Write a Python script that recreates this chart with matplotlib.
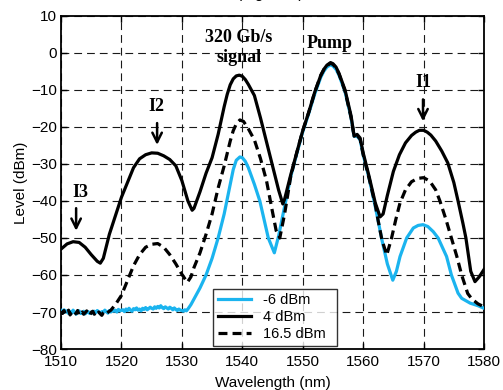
import matplotlib
matplotlib.use("Agg")
import matplotlib.pyplot as plt
import numpy as np

plt.rcParams["font.family"] = ["Liberation Sans", "DejaVu Sans"]

# --- data ------------------------------------------------------------------
# noise floors are sampled every 0.25 nm starting at 1510 nm
noise_16 = [-69.8, -70.4, -69.6, -70.6, -70.1, -69.5, -70.8, -70.2, -69.9, -70.7,
            -70.3, -69.6, -70.9, -70.4, -70.0, -70.6, -70.2, -69.7, -70.5, -70.9,
            -70.1, -69.8, -70.6, -70.3, -70.8, -70.0, -70.5, -70.9, -70.2, -69.9,
            -70.4, -70.1, -69.8, -69.5]
noise_m6 = [-69.6, -70.2, -69.4, -70.0, -69.7, -70.4, -69.9, -70.3, -69.5, -70.1,
            -70.6, -70.0, -69.7, -70.4, -70.2, -69.8, -70.5, -70.1, -69.9, -70.4,
            -70.0, -70.3, -69.8, -70.2, -69.6, -70.0, -70.4, -69.9, -70.1, -69.5,
            -69.9, -70.3, -69.6, -70.0, -69.4, -69.8, -69.5, -70.0, -69.3, -69.7,
            -69.5, -69.4, -69.9, -69.2, -69.6, -69.0, -69.5, -69.8, -69.1, -69.4,
            -68.9, -69.5, -69.2, -69.7, -69.0, -69.3, -68.8, -69.4, -69.1, -68.7,
            -69.0, -69.2, -68.6, -69.0, -68.5, -68.9, -68.3, -68.8, -69.1, -68.6,
            -68.9, -69.2, -68.7, -69.0, -69.4, -68.9, -69.3, -69.6, -69.2, -69.5,
            -69.6, -69.8, -69.4, -69.7, -69.2]

# 4 dBm (solid black)
wl_4 = [1510, 1511, 1512, 1513, 1514, 1515, 1516, 1516.5, 1517, 1518,
        1519, 1520, 1521, 1522, 1523, 1524, 1525, 1526, 1527, 1528,
        1529, 1530, 1531, 1531.7, 1532, 1533, 1534, 1535, 1536, 1537,
        1537.5, 1538, 1538.5, 1539, 1539.5, 1540, 1540.5, 1541, 1542, 1543,
        1544, 1545, 1546, 1546.7, 1547, 1548, 1549, 1550, 1551, 1552,
        1553, 1553.5, 1554, 1554.6, 1555, 1555.5, 1556, 1557, 1558, 1558.5,
        1559, 1559.5, 1560, 1561, 1562, 1562.8, 1563.3, 1564, 1565, 1566,
        1567, 1568, 1568.7, 1569.3, 1570, 1570.6, 1571.2, 1572, 1573, 1574,
        1575, 1575.7, 1576.5, 1577, 1577.8, 1578.5, 1579.2, 1580]
lvl_4 = [-53, -51.6, -51, -51.2, -52.5, -54.5, -56.3, -56.8, -55.5, -49,
         -44, -39, -35, -31, -28.6, -27.5, -27, -27.1, -27.8, -28.8,
         -30.5, -34.5, -40, -42.5, -42, -37.5, -32.5, -28.3, -22, -14.5,
         -11.2, -8.6, -7.0, -6.2, -6, -6.3, -7.2, -8.5, -11.5, -17.5,
         -24, -30.5, -37, -40.8, -39.5, -33, -27, -21, -16, -10.5,
         -6, -4.4, -3.3, -2.6, -2.9, -3.8, -5.5, -10, -17, -22.5,
         -22, -23, -27, -33.5, -40.5, -44.3, -43.5, -38.5, -32, -27.5,
         -24.3, -22.3, -21.4, -20.9, -20.9, -21.4, -22.2, -23.8, -26.5, -29.7,
         -35, -40, -46, -50, -59, -61.8, -60.5, -58.5]

# 16.5 dBm (dashed black), after its noise floor
wl_16 = [1518.5, 1519, 1520, 1521, 1522, 1523, 1524, 1525, 1526, 1527,
         1528, 1529, 1530, 1530.9, 1531.5, 1532, 1533, 1534, 1535, 1536,
         1537, 1538, 1538.5, 1539, 1539.6, 1540.2, 1541, 1542, 1543, 1544,
         1545, 1545.6, 1546.2, 1547, 1547.5, 1548, 1549, 1550, 1551, 1552,
         1553, 1553.5, 1554, 1554.6, 1555, 1555.5, 1556, 1557, 1558, 1558.5,
         1559, 1559.5, 1560, 1561, 1562, 1562.5, 1563.1, 1563.9, 1564.7, 1565.4,
         1566.1, 1567, 1568, 1569, 1570, 1571, 1572, 1572.7, 1573.7, 1574.6,
         1575.5, 1576.3, 1577.3, 1578, 1579, 1580]
lvl_16 = [-69, -68, -65.5, -61.5, -57.5, -54.5, -52.5, -51.7, -51.5, -52.5,
          -54.5, -57, -59.8, -62, -60.5, -58, -54, -49, -43.5, -36.5,
          -30.5, -23.8, -21, -19.2, -18.1, -18.5, -20.5, -23.5, -28.5, -34.5,
          -43, -48, -50, -43.5, -38.5, -33.5, -27, -21, -16, -10.5,
          -6, -4.5, -3.4, -2.8, -3.1, -4, -5.7, -10.3, -17.5, -22.5,
          -22.3, -23.3, -27.5, -34, -41, -45.5, -50.5, -54.6, -50, -45,
          -40.5, -37, -34.8, -33.9, -33.7, -34.6, -37, -40, -45, -50,
          -55, -60, -65, -66.5, -67.8, -68.6]

# -6 dBm (cyan), after its noise floor
wl_m6 = [1531.5, 1532, 1533, 1534, 1535, 1536, 1537, 1538, 1538.5, 1539,
         1539.6, 1540, 1540.5, 1541, 1542, 1542.9, 1543.6, 1544.3, 1545.3, 1546,
         1546.5, 1547, 1548, 1549, 1550, 1551, 1552, 1553, 1553.5, 1554,
         1554.6, 1555, 1555.5, 1556, 1557, 1558, 1558.5, 1559, 1559.5, 1560,
         1561, 1562, 1562.5, 1563.1, 1564, 1564.9, 1565.5, 1566.1, 1567.2, 1568.3,
         1569.1, 1569.9, 1570.7, 1571.6, 1572.4, 1573.8, 1574.6, 1575.7, 1576.3, 1577.7,
         1579, 1580]
lvl_m6 = [-68, -66.5, -63.5, -60, -55.5, -50, -43.5, -35.5, -31.5, -29,
          -28.1, -28.3, -29.3, -31, -35.5, -40, -45, -50, -54, -49.5,
          -45.5, -41.5, -33.5, -27.3, -21.3, -16.3, -11, -6.5, -4.9, -3.8,
          -3.2, -3.5, -4.4, -6, -10.5, -17.5, -22.5, -22.5, -23.5, -27.5,
          -34, -41.5, -45.5, -50.5, -57, -61.4, -59, -55, -50, -47.3,
          -46.6, -46.4, -46.9, -48.3, -50, -55, -60, -64.9, -66.3, -67.6,
          -68.3, -69]

labels = ["-6 dBm", "4 dBm", "16.5 dBm"]
x_ticks = [1510, 1520, 1530, 1540, 1550, 1560, 1570, 1580]
y_ticks = [-80, -70, -60, -50, -40, -30, -20, -10, 0, 10]

# peak annotations: (label, text x, text level, arrow x, arrow top, arrow tip)
peaks = [("I3", 1513.2, -37.8, 1512.5, -41.2, -48.8),
         ("I2", 1525.7, -14.6, 1525.9, -18.2, -25.6),
         ("I1", 1570.0, -8.1, 1569.9, -11.8, -19.2)]

CYAN = "#1bb4ef"

# --- figure --------------------------------------------------------------------
fig = plt.figure(figsize=(5.03, 3.90), dpi=100)
ax = fig.add_axes([0.1213, 0.1051, 0.8410, 0.8540])

x16 = np.concatenate([1510 + 0.25 * np.arange(len(noise_16)), wl_16])
y16 = np.concatenate([noise_16, lvl_16])
xm6 = np.concatenate([1510 + 0.25 * np.arange(len(noise_m6)), wl_m6])
ym6 = np.concatenate([noise_m6, lvl_m6])

h_m6, = ax.plot(xm6, ym6, color=CYAN, lw=2.3, zorder=3)
h_16, = ax.plot(x16, y16, color="black", lw=2.3, ls=(0, (2.8, 1.6)), zorder=4)
h_4, = ax.plot(wl_4, lvl_4, color="black", lw=2.3, zorder=5)

ax.set_xlim(1510, 1580)
ax.set_ylim(-80, 10)
ax.set_xticks(x_ticks)
ax.set_yticks(y_ticks)
ax.tick_params(direction="in", top=True, right=True, length=4, width=1,
               labelsize=11, pad=3)
ax.tick_params(axis="x", pad=4)
ax.grid(True, color="0.1", lw=0.8, ls=(0, (7, 4.5)))
for s in ax.spines.values():
    s.set_linewidth(1.3)

ax.set_xlabel("Wavelength (nm)", fontsize=11, labelpad=5)
ax.set_ylabel("Level (dBm)", fontsize=11, labelpad=2)

# annotations
serif = dict(family=["Liberation Serif", "DejaVu Serif"], weight="bold", fontsize=13)
ax.text(1539.4, 1.4, "320 Gb/s\nsignal", ha="center", va="center",
        linespacing=1.2, **serif)
ax.text(1554.5, 2.6, "Pump", ha="center", va="center", **serif)
for name, xt, ytxt, xa, ytop, ytip in peaks:
    ax.text(xt, ytxt, name, ha="center", va="center", **serif)
    ax.annotate("", xy=(xa, ytip), xytext=(xa, ytop),
                arrowprops=dict(arrowstyle="->", lw=1.8, color="black",
                                mutation_scale=17))

leg = ax.legend([h_m6, h_4, h_16], labels, loc="lower left",
                bbox_to_anchor=(0.36, 0.01, 0.292, 0.18), mode="expand",
                fontsize=10.5, frameon=True, fancybox=False, edgecolor="black",
                borderpad=0.3, labelspacing=0.22, handlelength=2.3,
                handletextpad=0.8, borderaxespad=0)
leg.get_frame().set_linewidth(1.0)

# title mostly cut off at the top edge of the image
fig.text(0.537, 1.0 + 2.0 / 390, "(Figure 3)", ha="center", va="baseline", fontsize=11)

fig.savefig("out.png", dpi=100)
